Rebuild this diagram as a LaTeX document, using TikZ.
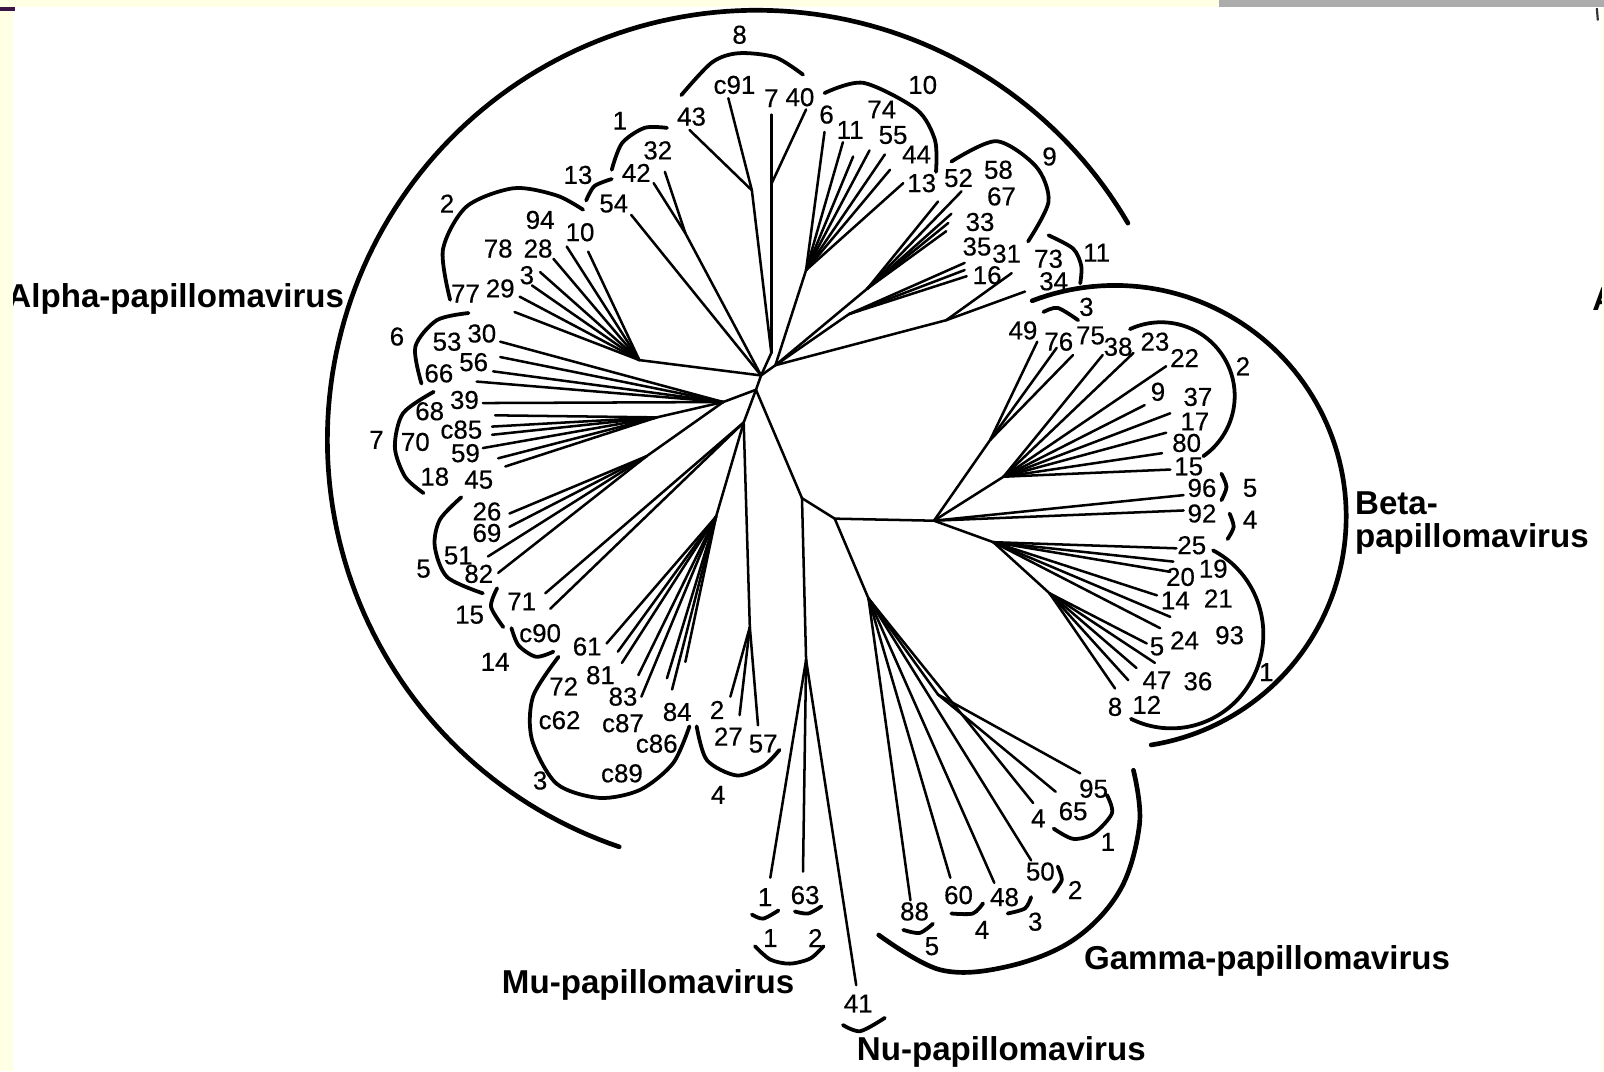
\documentclass[tikz,border=0pt]{standalone}
\usepackage{fontspec}
\setmainfont{Liberation Sans}
\newfontfamily\numfont[FakeBold=0.4]{Liberation Sans}
\definecolor{bgy}{RGB}{255,255,228}
\definecolor{bgg}{RGB}{172,172,172}
\definecolor{mk}{RGB}{60,20,70}
\begin{document}
\begin{tikzpicture}[x=0.01cm,y=-0.01cm,
  br/.style={line width=0.7pt,line cap=round},
  brk/.style={line width=1.05pt,line cap=round},
  bigarc/.style={line width=1.3pt,line cap=round},
  num/.style={font=\numfont\fontsize{7.2}{8}\selectfont,inner sep=0pt},
  grp/.style={font=\bfseries\fontsize{9.2}{10}\selectfont,inner sep=0pt}]
\useasboundingbox (0,0) rectangle (1568,1047);
\fill[white] (0,0) rectangle (1568,1047);

% ---------- internal tree nodes ----------
\foreach \n/\x/\y in {Rt/739/381,R1/744/367,Rr/758/357,N8/754/345,N8a/735/186,N8b/754/180,
  N10/788/264,N9/848/282,N35/830/307,N34/925/313,N1g/670/228,N2/625/352,
  Ln/707/393,N7/642/408,N5/632/446,Ld/727/413,N3/700/505,N4/733/613,
  Nm/784/487,M/788/645,Gx/816/507,Bn/913/509,G/849/585,G3/917/679,
  Bu/981/466,Bv/968/430,L1/971/530,L2/1026/580}
  \coordinate (\n) at (\x,\y);

% ---------- leaf tips ----------
\foreach \n/\x/\y in {t43/674/127,tc91/712/96,t7a/754/112,t40/788/107,
  t6/806/129,t11/824/139,t74a/834/153,t74b/850/147,t55/865/151,t44/870/166,t13a/883/179,
  t52/940/187,t9b/917/197,t9c/930/209,t9d/927/218,t9e/925/226,
  t35a/943/257,t35b/943/264,t35c/945/270,t16/989/267,t34/1002/285,
  t54/617/210,t42/639/179,t32/650/168,
  t10/575/246,t94/554/241,t28/541/253,t3/528/266,t29a/520/279,t29b/508/290,t77/503/305,
  t30/489/334,t56/489/349,t66a/482/363,t66b/466/373,
  t39/472/394,t68/484/406,t85a/481/417,t85b/481/425,t59a/472/438,t59b/487/448,t45/494/456,
  t26/498/502,t69/498/515,t51/477/544,t82/487/560,
  t71a/533/580,t71b/538/595,
  t61/593/629,t61b/604/637,t81/608/648,t81b/624/660,t83/627/681,t84a/652/663,t84b/657/674,t84c/670/647,
  t2/714/681,t27/723/699,t57/741/709,
  tm1/753/858,tm63/785/852,tn41/837/963,
  tg88/890/880,tg60/929/858,tg48/972/863,tg50/1008/841,tg4/1010/785,tg65/1032/774,tg95/1056/756,
  tb49/1014/334,tb76/1033/340,tb75/1049/347,tb38/1078/347,tb23/1108/345,tb22/1140/358,
  tb9/1119/396,tb37/1144/404,tb17/1140/423,tb80/1136/443,tb15/1144/459,tb96/1157/484,tb92/1157/499,
  tb25/1150/536,tb19/1147/549,tb20/1144/559,tb14/1131/582,tb14b/1144/603,tb24/1134/614,
  tb5/1121/629,tb5b/1129/648,tb47/1111/653,tb12/1103/665,tb8/1090/673}
  \coordinate (\n) at (\x,\y);

% ---------- branches ----------
\foreach \a/\b in {Rt/R1,R1/Rr,R1/N8,N8/t7a,N8b/t40,N8/N8a,N8a/t43,N8a/tc91,
  Rr/N10,Rr/N9,Rr/N35,Rr/N34,N34/t16,N34/t34,R1/t54,R1/N1g,N1g/t42,N1g/t32,R1/N2,
  Rt/Ln,Ln/N7,Ln/N5,Ln/t39,Rt/Ld,Ld/t71a,Ld/t71b,Ld/N3,Ld/N4,
  Rt/Nm,Nm/M,Nm/Gx,Gx/Bn,Gx/G,G/G3,Bn/Bv,Bn/Bu,Bn/L1,L1/L2,Bn/tb96,Bn/tb92}
  \draw[br] (\a)--(\b);
\foreach \b in {t6,t11,t74a,t74b,t55,t44,t13a} \draw[br] (N10)--(\b);
\foreach \b in {t52,t9b,t9c,t9d,t9e} \draw[br] (N9)--(\b);
\foreach \b in {t35a,t35b,t35c} \draw[br] (N35)--(\b);
\foreach \b in {t10,t94,t28,t3,t29a,t29b,t77} \draw[br] (N2)--(\b);
\foreach \b in {t30,t56,t66a,t66b} \draw[br] (Ln)--(\b);
\foreach \b in {t68,t85a,t85b,t59a,t59b,t45} \draw[br] (N7)--(\b);
\foreach \b in {t26,t69,t51,t82} \draw[br] (N5)--(\b);
\foreach \b in {t61,t61b,t81,t81b,t83,t84a,t84b,t84c} \draw[br] (N3)--(\b);
\foreach \b in {t2,t27,t57} \draw[br] (N4)--(\b);
\foreach \b in {tm1,tm63,tn41} \draw[br] (M)--(\b);
\foreach \b in {tg88,tg60,tg48,tg50,tg4} \draw[br] (G)--(\b);
\foreach \b in {tg65,tg95} \draw[br] (G3)--(\b);
\foreach \b in {tb49,tb76,tb75} \draw[br] (Bv)--(\b);
\foreach \b in {tb38,tb23,tb22,tb9,tb37,tb17,tb80,tb15} \draw[br] (Bu)--(\b);
\foreach \b in {tb25,tb19,tb20,tb14,tb14b,tb24} \draw[br] (L1)--(\b);
\foreach \b in {tb5,tb5b,tb47,tb12,tb8} \draw[br] (L2)--(\b);

% ---------- big genus arcs ----------
\draw[bigarc] plot[domain=108.7:329.7,samples=150,variable=\t] ({740+420*cos(\t)},{430+420*sin(\t)});
\draw[bigarc] plot[domain=-111:81,samples=100,variable=\t] ({1090+226*cos(\t)},{505+226*sin(\t)});
\draw[bigarc] plot[smooth,tension=0.6] coordinates {(1108,753) (1114,805) (1095,870) (1049,919) (984,945) (919,948) (859,914)};

% ---------- species brackets ----------
\draw[brk] plot[smooth] coordinates {(666,93) (696,61) (722,52) (758,56) (785,73)};
\draw[brk] plot[smooth] coordinates {(806,91) (844,81) (896,107) (914,137) (915,168)};
\draw[brk] plot[smooth] coordinates {(930,158) (974,138) (1013,163) (1025,197) (1005,236)};
\draw[brk] plot[smooth] coordinates {(1025,230) (1049,243) (1057,260) (1056,277)};
\draw[brk] plot[smooth] coordinates {(598,166) (608,140) (630,125) (652,125)};
\draw[brk] plot[smooth] coordinates {(573,196) (581,182) (598,175)};
\draw[brk] plot[smooth] coordinates {(440,293) (433,244) (456,202) (502,184) (544,191) (570,205)};
\draw[brk] plot[smooth] coordinates {(458,306) (427,313) (406,339) (412,375)};
\draw[brk] plot[smooth] coordinates {(424,383) (394,404) (386,437) (396,466) (414,482)};
\draw[brk] plot[smooth] coordinates {(451,486) (430,508) (425,534) (437,564) (472,580)};
\draw[brk] plot[smooth] coordinates {(486,575) (480,593) (492,613)};
\draw[brk] plot[smooth] coordinates {(500,614) (507,631) (524,642) (541,637)};
\draw[brk] plot[smooth] coordinates {(546,642) (521,681) (520,723) (544,766) (586,780) (626,772) (658,746) (674,710)};
\draw[brk] plot[smooth] coordinates {(681,710) (691,743) (720,758) (746,749) (762,733)};
% Mu / Nu
\draw[brk] plot[smooth] coordinates {(735,894) (746,898) (761,890)};
\draw[brk] plot[smooth] coordinates {(777,891) (790,893) (803,886)};
\draw[brk] plot[smooth] coordinates {(738,925) (753,938) (772,942) (792,937) (805,925)};
\draw[brk] plot[smooth] coordinates {(824,1002) (841,1008) (865,995)};
% Gamma
\draw[brk] plot[smooth] coordinates {(1082,777) (1087,795) (1069,815) (1049,820) (1030,810)};
\draw[brk] plot[smooth] coordinates {(1034,847) (1038,860) (1030,872)};
\draw[brk] plot[smooth] coordinates {(1008,877) (1002,888) (985,893)};
\draw[brk] plot[smooth] coordinates {(961,883) (951,893) (930,893)};
\draw[brk] plot[smooth] coordinates {(912,903) (899,912) (883,909)};
% Beta
\draw[brk] plot[smooth] coordinates {(1020,305) (1034,301) (1054,313)};
\draw[brk] plot[domain=-115:55,samples=60,variable=\t] ({1135+72*cos(\t)},{387+72*sin(\t)});
\draw[brk] plot[smooth] coordinates {(1194,463) (1199,476) (1194,489)};
\draw[brk] plot[smooth] coordinates {(1202,502) (1206,515) (1200,527)};
\draw[brk] plot[domain=-63:116,samples=80,variable=\t] ({1145+90*cos(\t)},{620+92*sin(\t)});

% ---------- number labels ----------
\foreach \n/\x/\y/\s in {a8/723/34/8,ac91/718/83/c91,a7/754/96/7,a40/782/95/40,a43/676/114/43,
  a10g/902/83/10,a6/808/112/6,a11/831/127/11,a74/862/107/74,a55/873/132/55,a44/896/151/44,a13/901/179/13,
  a52/937/174/52,a58/976/166/58,a67/979/192/67,a9g/1026/153/9,a33/958/217/33,a35/955/241/35,a31/984/248/31,
  a16/965/269/16,a73/1025/253/73,a34/1030/275/34,a11g/1072/247/11,
  a1g/606/118/1,a32/643/147/32,a42/622/169/42,a13g/565/171/13,a54/600/199/54,
  a2g/437/199/2,a94/528/215/94,a10/567/227/10,a78/487/243/78,a28/526/243/28,a3/515/269/3,a77/455/287/77,a29/489/282/29,
  a6g/388/329/6,a53/437/334/53,a30/471/326/30,a56/463/354/56,a66/429/365/66,
  a39/454/391/39,a68/420/402/68,a7g/368/430/7,a70/406/432/70,ac85/451/420/c85,a59/455/443/59,a18/425/466/18,a45/468/469/45,
  a26/476/500/26,a69/476/521/69,a5g/414/556/5,a51/448/543/51,a82/468/561/82,
  a71/510/588/71,a15g/459/601/15,ac90/528/619/c90,a14g/484/647/14,a61/574/632/61,
  a81/587/660/81,a72/551/671/72,a83/609/681/83,ac62/547/704/c62,ac87/609/707/c87,a84/662/696/84,
  ac86/642/727/c86,ac89/608/756/c89,a3g/528/763/3,
  a2/701/694/2,a27/712/720/27,a57/746/727/57,a4g/702/777/4,
  m1/748/877/1,m63/787/875/63,m1g/753/917/1,m2g/797/917/2,n41/839/981/41,
  g95/1069/771/95,g65/1049/793/65,g4/1015/800/4,g1g/1083/823/1,g50/1017/852/50,g2g/1051/870/2,
  g60/937/875/60,g48/982/877/48,g3g/1012/901/3,g88/894/891/88,g4g/960/909/4,g5g/911/925/5,
  b3g/1062/300/3,b49/1000/323/49,b76/1035/334/76,b75/1066/328/75,b38/1093/339/38,b23/1129/334/23,
  b22/1158/350/22,b9/1132/383/9,b37/1171/388/37,b17/1168/412/17,b80/1160/433/80,b15/1162/456/15,
  b96/1175/477/96,b92/1175/502/92,b2g/1215/358/2,b5g/1222/477/5,b4g/1222/508/4,
  b25/1165/533/25,b20/1154/564/20,b19/1186/556/19,b14/1149/587/14,b21/1191/585/21,
  b5/1131/632/5,b24/1158/626/24,b93/1202/621/93,b47/1131/665/47,b36/1171/666/36,
  b8/1090/691/8,b12/1121/689/12,b1g/1238/657/1}
  \node[num] (\n) at (\x,\y) {\s};

% ---------- genus labels ----------
\node[grp,anchor=base east] (alpha) at (337,301) {Alpha-papillomavirus};
\node[grp,anchor=base west] (betaA) at (1324,503) {Beta-};
\node[grp,anchor=base west] (betaB) at (1324,535) {papillomavirus};
\node[grp,anchor=base west] (gamma) at (1059,948) {Gamma-papillomavirus};
\node[grp,anchor=base west] (mu) at (490,971) {Mu-papillomavirus};
\node[grp,anchor=base west] (nu) at (837,1037) {Nu-papillomavirus};
\node[grp,anchor=base west] (acut) at (1556,304) {A};

% ---------- frame strips ----------
\fill[bgy] (0,0) rectangle (13,1047);
\fill[bgy] (0,0) rectangle (1192,7);
\fill[bgg] (1192,0) rectangle (1568,7);
\fill[bgy] (1566,7) rectangle (1568,1047);
\fill[mk] (0,7) rectangle (15,11);
\draw[line width=0.6pt,black!80] (1561,8) -- (1562,20);
\end{tikzpicture}
\end{document}
